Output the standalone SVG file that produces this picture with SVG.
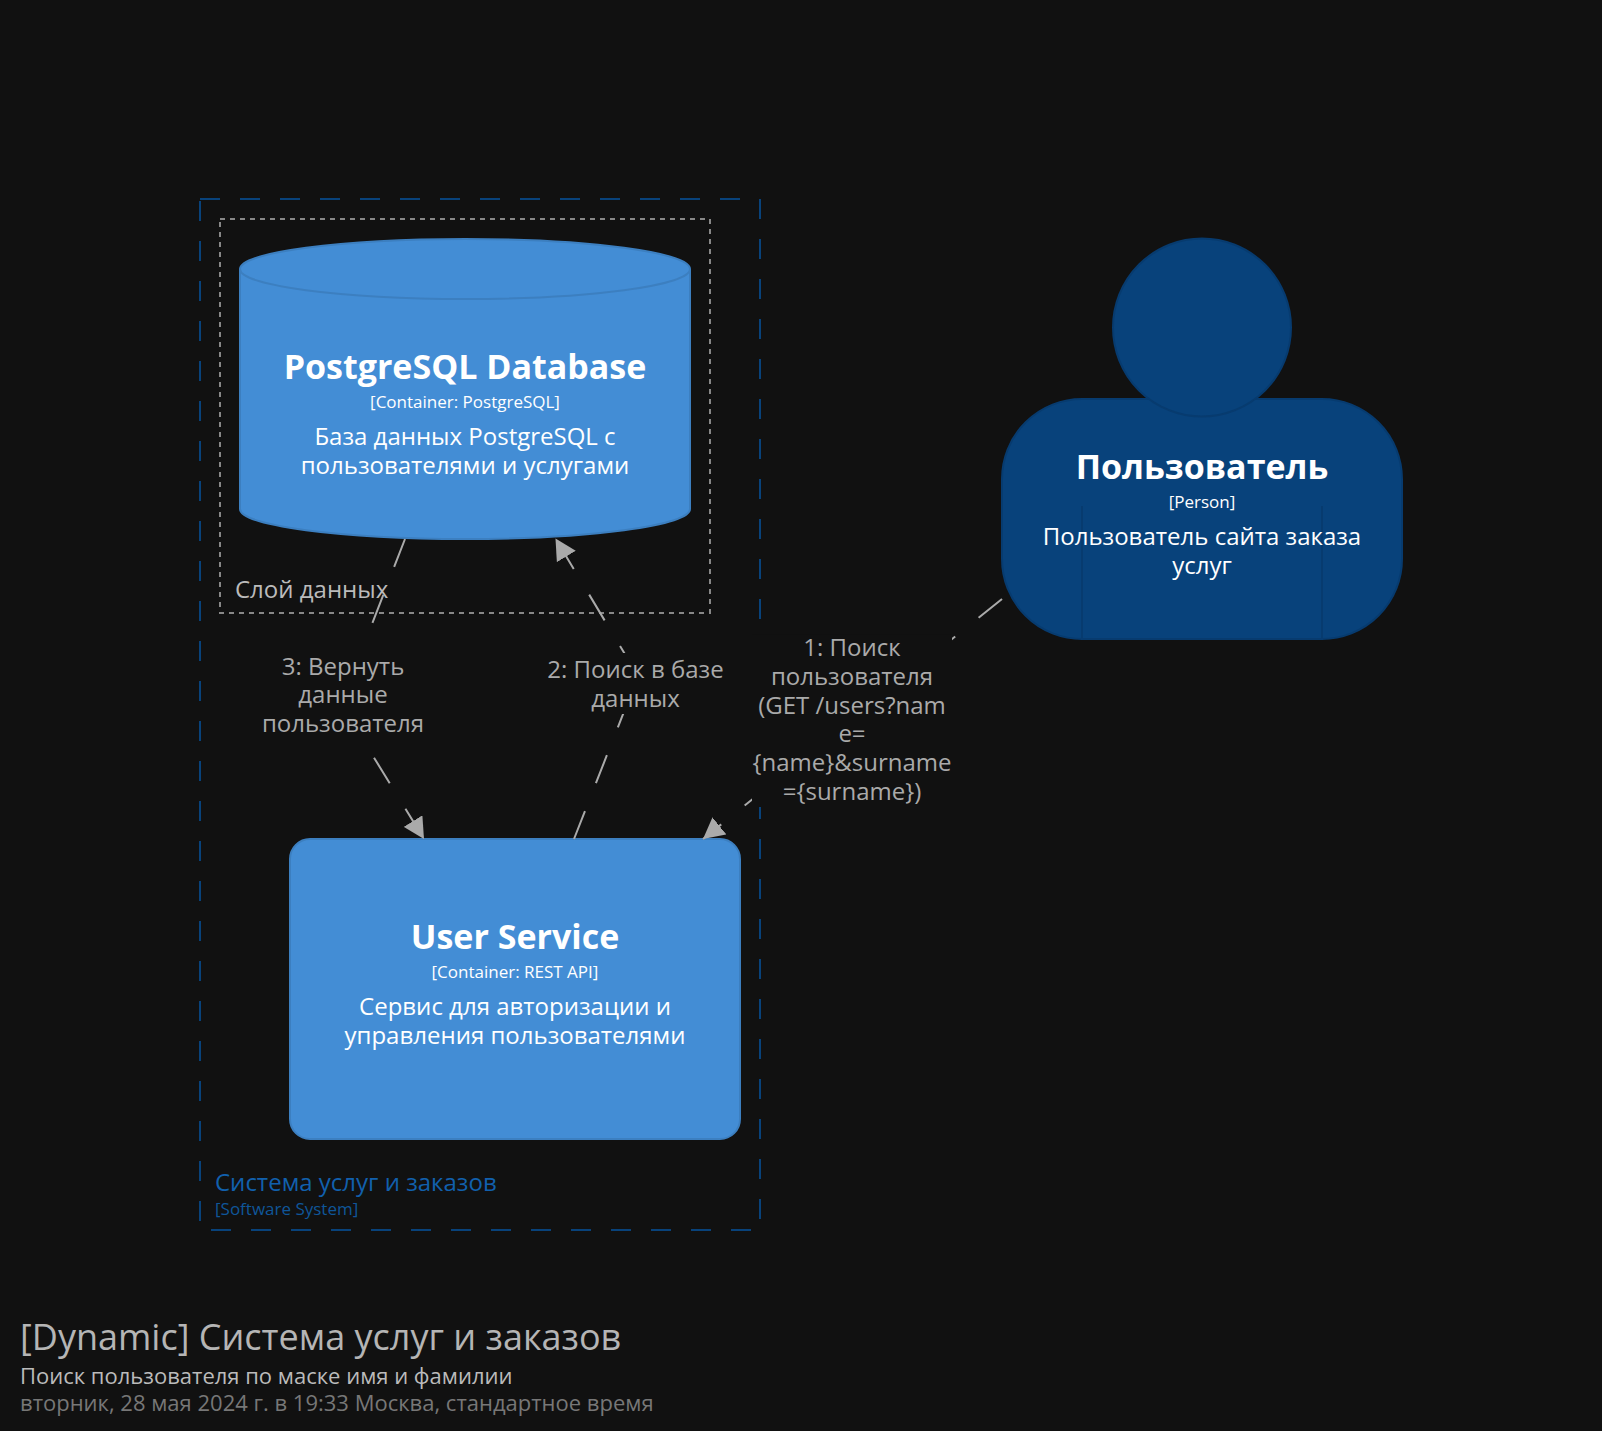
<svg xmlns="http://www.w3.org/2000/svg" width="1602" height="1431" viewBox="0 0 1602 1431">
<style>
text{font-family:"Open Sans","Noto Sans","DejaVu Sans",sans-serif}
.c{text-anchor:middle}
.n{font-size:34px;font-weight:700;fill:#fff}
.m{font-size:17px;fill:#fff}
.d{font-size:24px;fill:#fff}
.l{font-size:24px;fill:#aaa}
.svc{fill:#438dd5;stroke:#3c7fc0;stroke-width:2}
.per{fill:#08427b;stroke:#073b6f;stroke-width:2}
.link{fill:none;stroke:#aaa;stroke-width:2;stroke-dasharray:30 30}
.bg{fill:#111}
</style>
<defs>
<marker id="arrow" markerUnits="userSpaceOnUse" markerWidth="22" markerHeight="22" viewBox="0 0 22 22" refX="21" refY="11" orient="auto">
<path d="M0 0L21 11L0 22Z" fill="#aaa"/>
</marker>
</defs>
<rect width="1602" height="1431" fill="#111"/>
<g id="boundary-system">
<rect x="200" y="199" width="560" height="1031" fill="none" stroke="#08427b" stroke-width="2" stroke-dasharray="20 20"/>
<text x="215" y="1191" font-size="24" fill="#1160ad">Система услуг и заказов</text>
<text x="215" y="1215" font-size="17" fill="#0f5699">[Software System]</text>
</g>
<g id="group-data">
<rect x="220" y="219" width="490" height="394" fill="none" stroke="#888" stroke-width="2" stroke-dasharray="5 5"/>
<text x="235" y="598" font-size="24" fill="#bbb">Слой данных</text>
</g>
<g id="node-db">
<path class="svc" d="M240 269C240 252.400 341 239 465 239C589 239 690 252.400 690 269V509C690 525.600 589 539 465 539C341 539 240 525.600 240 509Z"/>
<path d="M240 269C240 285.600 341 299 465 299C589 299 690 285.600 690 269" fill="none" stroke="#3c7fc0" stroke-width="2"/>
<text class="c n" x="465" y="379">PostgreSQL Database</text>
<text class="c m" x="465" y="408">[Container: PostgreSQL]</text>
<text class="c d" x="465" y="445">База данных PostgreSQL с</text>
<text class="c d" x="465" y="474">пользователями и услугами</text>
</g>
<g id="node-service">
<rect class="svc" x="290" y="839" width="450" height="300" rx="20"/>
<text class="c n" x="515" y="949">User Service</text>
<text class="c m" x="515" y="978">[Container: REST API]</text>
<text class="c d" x="515" y="1015">Сервис для авторизации и</text>
<text class="c d" x="515" y="1044">управления пользователями</text>
</g>
<g id="node-person">
<rect class="per" x="1002" y="399" width="400" height="240" rx="80"/>
<circle class="per" cx="1202" cy="327.500" r="89"/>
<path d="M1082 506V639M1322 506V639" fill="none" stroke="#073b6f" stroke-width="2"/>
<text class="c n" x="1202" y="479">Пользователь</text>
<text class="c m" x="1202" y="508">[Person]</text>
<text class="c d" x="1202" y="545">Пользователь сайта заказа</text>
<text class="c d" x="1202" y="574">услуг</text>
</g>
<g id="connectors">
<path class="link" marker-end="url(#arrow)" d="M1002 599L703 839"/>
<rect class="bg" x="752" y="634.500" width="200" height="172.500"/>
<text class="c l" x="852" y="656">1: Поиск</text>
<text class="c l" x="852" y="685">пользователя</text>
<text class="c l" x="852" y="714">(GET /users?nam</text>
<text class="c l" x="852" y="742">e=</text>
<text class="c l" x="852" y="771">{name}&amp;surname</text>
<text class="c l" x="852" y="800">={surname})</text>
<path class="link" marker-end="url(#arrow)" d="M574 839L638 676L555.500 538.500"/>
<rect class="bg" x="545" y="653" width="182" height="61"/>
<text class="c l" x="635.500" y="678">2: Поиск в базе</text>
<text class="c l" x="635.500" y="707">данных</text>
<path class="link" marker-end="url(#arrow)" d="M405 539L341 704L424 839"/>
<rect class="bg" x="258" y="648" width="170" height="97"/>
<text class="c l" x="343" y="675">3: Вернуть</text>
<text class="c l" x="343" y="703">данные</text>
<text class="c l" x="343" y="732">пользователя</text>
</g>
<g id="title-block">
<text x="20" y="1350" font-size="36" fill="#b5b5b5">[Dynamic] Система услуг и заказов</text>
<text x="20" y="1384" font-size="22" fill="#bbb">Поиск пользователя по маске имя и фамилии</text>
<text x="20" y="1411" font-size="22" fill="#777">вторник, 28 мая 2024 г. в 19:33 Москва, стандартное время</text>
</g>
</svg>
